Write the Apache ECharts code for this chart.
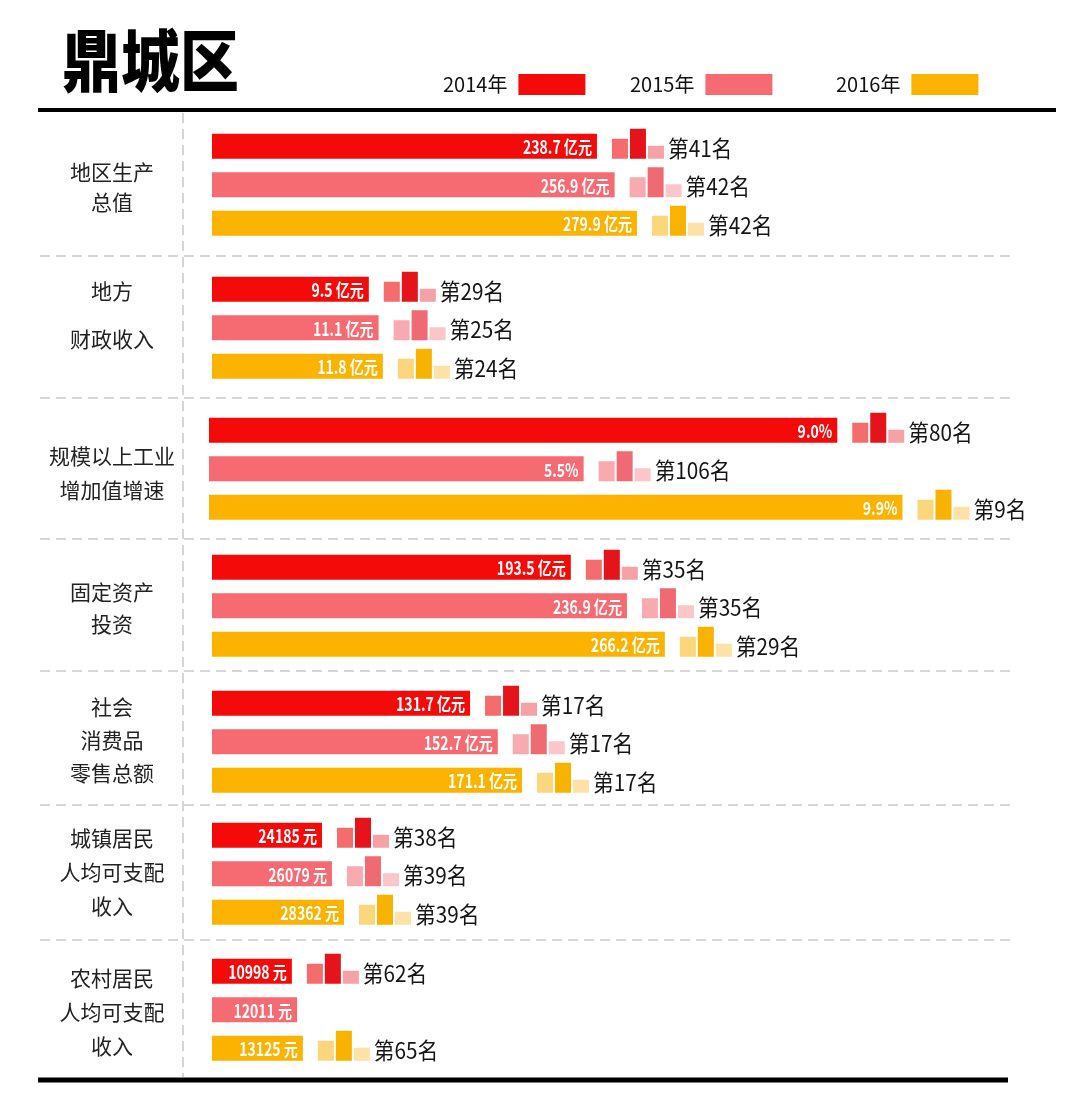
<!DOCTYPE html>
<html><head><meta charset="utf-8">
<script src="https://cdn.jsdelivr.net/npm/echarts@6/dist/echarts.min.js"></script>
<style>html,body{margin:0;padding:0;background:#fff}#c{width:1080px;height:1116px}</style>
</head><body><div id="c"></div>
<script>
// ---------- data ----------
const titleText = '鼎城区';
const years = ['2014年', '2015年', '2016年'];
const categories = ['地区生产\n总值', '地方\n财政收入', '规模以上工业\n增加值增速', '固定资产\n投资', '社会\n消费品\n零售总额', '城镇居民\n人均可支配\n收入', '农村居民\n人均可支配\n收入'];
const units = [' 亿元', ' 亿元', '%', ' 亿元', ' 亿元', ' 元', ' 元'];
const decimals = [1, 1, 1, 1, 1, 0, 0];
const values2014 = [238.7, 9.5, 9.0, 193.5, 131.7, 24185, 10998];
const values2015 = [256.9, 11.1, 5.5, 236.9, 152.7, 26079, 12011];
const values2016 = [279.9, 11.8, 9.9, 266.2, 171.1, 28362, 13125];
const rank2014 = [41, 29, 80, 35, 17, 38, 62];
const rank2015 = [42, 25, 106, 35, 17, 39, null];
const rank2016 = [42, 24, 9, 29, 17, 39, 65];

// ---------- styling / layout ----------
const valuesByYear = [values2014, values2015, values2016];
const ranksByYear = [rank2014, rank2015, rank2016];
const barColors = ['#f50a0a', '#f66a72', '#fbb300'];
const iconColors = [
  ['#f46c6c', '#e5141b', '#f6a1a6'],
  ['#f8aab0', '#f06a74', '#fac6ca'],
  ['#fbd67c', '#f7b300', '#fce2a6']
];
const groupLayout = [
  { top: 127, left: 212, min: -157.6, max: 666 },
  { top: 270, left: 212, min: -16.2, max: 114.9 },
  { top: 411, left: 209, min: 0.33, max: 11.37 },
  { top: 548, left: 212, min: -84, max: 534.7 },
  { top: 684, left: 212, min: -63.8, max: 542.3 },
  { top: 816, left: 212, min: 3304, max: 155194 },
  { top: 952, left: 212, min: -4450, max: 150289 }
];
const labelLayout = [
  { cy: 187, lh: 30 }, { cy: 315, lh: 48 }, { cy: 473, lh: 34 }, { cy: 608, lh: 32 },
  { cy: 740, lh: 33 }, { cy: 872, lh: 34 }, { cy: 1012, lh: 34 }
];
const legendLefts = [443, 630, 836];
const separatorsY = [256, 398, 539, 671, 805, 940];
const CJK = "'Noto Sans CJK SC', 'Noto Sans', sans-serif";

function makeRender(g, y) {
  return function (params, api) {
    const v = api.value(0), idx = api.value(1), rank = api.value(2);
    const cs = params.coordSys;
    const end = api.coord([v, idx]);
    const cy = end[1];
    const h = 25;
    const x0 = cs.x, x1 = end[0];
    const top = cy - h / 2, bottom = cy + h / 2;
    const label = v.toFixed(decimals[g]) + units[g];
    const children = [
      { type: 'rect', shape: { x: x0, y: top, width: x1 - x0, height: h }, style: { fill: barColors[y] } },
      { type: 'text', x: x1 - 5, y: cy + 1, scaleX: 0.78, style: { text: label, x: 0, y: 0, align: 'right', verticalAlign: 'middle', fill: '#fff', font: 'bold 18px ' + CJK } }
    ];
    if (isFinite(rank)) {
      const ix = x1 + 15, w = 16, gap = 2, hs = [20, 30, 13];
      for (let k = 0; k < 3; k++) {
        children.push({ type: 'rect', shape: { x: ix + k * (w + gap), y: bottom - hs[k], width: w, height: hs[k] }, style: { fill: iconColors[y][k] } });
      }
      children.push({ type: 'text', x: ix + 3 * w + 2 * gap + 4, y: cy + 2, scaleX: 0.9, style: { text: '第' + rank + '名', x: 0, y: 0, align: 'left', verticalAlign: 'middle', fill: '#151515', font: '23px ' + CJK } });
    }
    return { type: 'group', children };
  };
}

const grids = [], xAxes = [], yAxes = [], series = [];
groupLayout.forEach((L, g) => {
  grids.push({ left: L.left, top: L.top, width: 800, height: 115.5 });
  xAxes.push({ type: 'value', gridIndex: g, min: L.min, max: L.max, show: false, splitLine: { show: false } });
  yAxes.push({ type: 'category', gridIndex: g, data: years, inverse: true, show: false });
  years.forEach((yr, y) => {
    series.push({
      name: yr, type: 'custom', xAxisIndex: g, yAxisIndex: g, clip: false,
      itemStyle: { color: barColors[y] },
      encode: { x: 0, y: 1 },
      renderItem: makeRender(g, y),
      data: [[valuesByYear[y][g], y, ranksByYear[y][g] == null ? '-' : ranksByYear[y][g]]]
    });
  });
});

const graphics = [];
graphics.push({ type: 'text', x: 62, y: 61, scaleX: 0.88, style: { text: titleText, x: 0, y: 0, align: 'left', verticalAlign: 'middle', fill: '#000', font: '900 67px ' + CJK } });
graphics.push({ type: 'line', shape: { x1: 38, y1: 110, x2: 1056, y2: 110 }, style: { stroke: '#000', lineWidth: 4 } });
graphics.push({ type: 'line', shape: { x1: 38, y1: 1080, x2: 1008, y2: 1080 }, style: { stroke: '#000', lineWidth: 5 } });
graphics.push({ type: 'line', shape: { x1: 183, y1: 113, x2: 183, y2: 1077 }, style: { stroke: '#c9c9c9', lineWidth: 1.5, lineDash: [10, 6] } });
separatorsY.forEach(sy => graphics.push({ type: 'line', shape: { x1: 40, y1: sy, x2: 1015, y2: sy }, style: { stroke: '#c9c9c9', lineWidth: 1.5, lineDash: [10, 6] } }));
categories.forEach((c, g) => graphics.push({
  type: 'text', style: { text: c, x: 112, y: labelLayout[g].cy, align: 'center', verticalAlign: 'middle', fill: '#222', font: '21px ' + CJK, lineHeight: labelLayout[g].lh }
}));

const legends = years.map((yr, i) => ({
  left: legendLefts[i], top: 74, padding: 0, align: 'right', icon: 'rect', itemWidth: 67, itemHeight: 21, selectedMode: false,
  data: [yr], textStyle: { fontSize: 20, color: '#111', fontFamily: CJK, padding: [0, 6, 0, 0] }
}));

const chart = echarts.init(document.getElementById('c'), null, { renderer: 'canvas' });
chart.setOption({
  backgroundColor: '#fff',
  animation: false,
  legend: legends,
  grid: grids, xAxis: xAxes, yAxis: yAxes, series: series,
  graphic: graphics
});
</script></body></html>
